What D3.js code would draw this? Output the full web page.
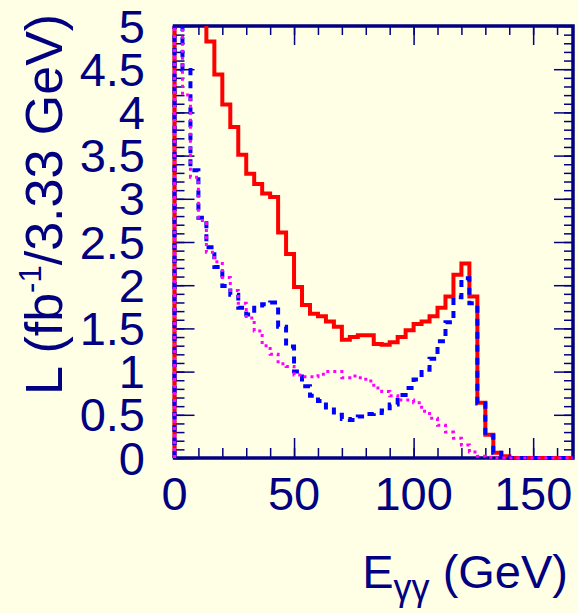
<html>
  <head>
    <meta charset="utf-8">
    <script src="https://d3js.org/d3.v7.min.js"></script>
    <style type="text/css">
      body {
        margin: 0;
        padding: 0;
        background: #ffffe6;
      }
      svg text {
        font-family: 'Liberation Sans', Arial, sans-serif;
        fill: #000080;
      }
    </style>
  </head>
  <body>
    <svg id="chart" width="578" height="613"></svg>
    <script>
      /* Data: 50 bins of 3.33 GeV */
      const binWidth = 10 / 3
      const nBins = 50

      // total (red solid)
      const totalValues = [9.5, 8.1, 6.7, 5.6, 4.82, 4.44, 4.09, 3.83, 3.51, 3.29,
        3.17, 3.06, 3.02, 2.61, 2.36, 1.98, 1.77, 1.67, 1.64, 1.58,
        1.52, 1.37, 1.40, 1.42, 1.42, 1.32, 1.31, 1.34, 1.40, 1.48,
        1.55, 1.58, 1.64, 1.74, 1.87, 2.12, 2.25, 1.87, 0.64, 0.27,
        0.06, 0.02, 0, 0, 0, 0, 0, 0, 0, 0]

      // blue dashed
      const blueValues = [6.0, 4.49, 3.33, 2.78, 2.44, 2.21, 1.99, 1.89, 1.74, 1.66,
        1.74, 1.78, 1.80, 1.52, 1.29, 1.00, 0.83, 0.72, 0.66, 0.56,
        0.50, 0.45, 0.44, 0.48, 0.51, 0.52, 0.55, 0.62, 0.73, 0.81,
        0.91, 1.02, 1.15, 1.35, 1.57, 1.86, 2.08, 1.79, 0.63, 0.26,
        0.06, 0.015, 0, 0, 0, 0, 0, 0, 0, 0]

      // magenta dotted
      const magentaValues = [5.8, 4.2, 3.25, 2.75, 2.38, 2.27, 2.09, 1.94, 1.79, 1.62,
        1.47, 1.30, 1.20, 1.09, 1.06, 0.96, 0.94, 0.94, 0.97, 1.00,
        1.00, 0.93, 0.95, 0.93, 0.89, 0.81, 0.77, 0.72, 0.67, 0.67,
        0.64, 0.54, 0.46, 0.38, 0.30, 0.23, 0.15, 0.07, 0.02, 0.01,
        0, 0, 0, 0, 0, 0, 0, 0, 0, 0]

      const xMajorTicks = [0, 50, 100, 150]
      const xTickLabels = ['0', '50', '100', '150']
      const yMajorTicks = [0, 0.5, 1, 1.5, 2, 2.5, 3, 3.5, 4, 4.5, 5]
      const yTickLabels = ['0', '0.5', '1', '1.5', '2', '2.5', '3', '3.5', '4', '4.5', '5']

      const navy = '#000080'

      /* Layout */
      const frame = { left: 174.5, right: 573, top: 26, bottom: 458 }

      const x = d3.scaleLinear()
        .domain([0, nBins * binWidth])
        .range([frame.left, frame.right])

      const y = d3.scaleLinear()
        .domain([0, 5])
        .range([frame.bottom, frame.top])

      const svg = d3.select('#chart')

      svg.append('rect')
        .attr('width', 578)
        .attr('height', 613)
        .attr('fill', '#ffffe6')

      svg.append('defs').append('clipPath')
        .attr('id', 'plotClip')
        .append('rect')
        .attr('x', frame.left - 3)
        .attr('y', frame.top)
        .attr('width', frame.right - frame.left + 3)
        .attr('height', frame.bottom - frame.top + 2)

      /* Ticks (inside the frame, on all four sides) */
      const xMinor = d3.range(0, 161, 10)
      const yMinor = d3.range(0, 51).map(d => d / 10)

      const tickLayer = svg.append('g')
        .attr('class', 'ticks')

      const addAxis = (axis, transform) => {
        const g = tickLayer.append('g')
          .attr('transform', transform)
          .call(axis)
        g.select('.domain').remove()
        g.selectAll('line')
          .attr('stroke', navy)
          .attr('stroke-width', 1.5)
        g.selectAll('text').remove()
      }

      addAxis(d3.axisBottom(x).tickValues(xMinor).tickSize(-10), `translate(0,${frame.bottom})`)
      addAxis(d3.axisBottom(x).tickValues(xMajorTicks).tickSize(-20), `translate(0,${frame.bottom})`)
      addAxis(d3.axisTop(x).tickValues(xMinor).tickSize(-9), `translate(0,${frame.top})`)
      addAxis(d3.axisTop(x).tickValues(xMajorTicks).tickSize(-19), `translate(0,${frame.top})`)
      addAxis(d3.axisLeft(y).tickValues(yMinor).tickSize(-10), `translate(${frame.left},0)`)
      addAxis(d3.axisLeft(y).tickValues(yMajorTicks).tickSize(-20), `translate(${frame.left},0)`)
      addAxis(d3.axisRight(y).tickValues(yMinor).tickSize(-9), `translate(${frame.right},0)`)
      addAxis(d3.axisRight(y).tickValues(yMajorTicks).tickSize(-19), `translate(${frame.right},0)`)

      /* Frame */
      svg.append('rect')
        .attr('x', frame.left)
        .attr('y', frame.top)
        .attr('width', frame.right - frame.left)
        .attr('height', frame.bottom - frame.top)
        .attr('fill', 'none')
        .attr('stroke', navy)
        .attr('stroke-width', 3.5)

      /* Histograms */
      const histPoints = (values) => {
        const pts = [[0, 0]]
        values.forEach((v, i) => {
          pts.push([i * binWidth, v])
          pts.push([(i + 1) * binWidth, v])
        })
        pts.push([nBins * binWidth, 0])
        return pts
      }

      const line = d3.line()
        .x(d => x(d[0]))
        .y(d => y(d[1]))

      const histLayer = svg.append('g')
        .attr('clip-path', 'url(#plotClip)')

      const series = [
        { values: totalValues, color: '#ff0000', width: 4, dash: null },
        { values: blueValues, color: '#0000ff', width: 4, dash: '7,6' },
        { values: magentaValues, color: '#ff00ff', width: 3, dash: '3,4' }
      ]

      histLayer.selectAll('path')
        .data(series)
        .join('path')
        .attr('d', d => line(histPoints(d.values)))
        .attr('fill', 'none')
        .attr('stroke', d => d.color)
        .attr('stroke-width', d => d.width)
        .attr('stroke-dasharray', d => d.dash)
        .attr('stroke-linejoin', 'miter')

      /* Tick labels */
      const labelSize = 47

      svg.append('g')
        .selectAll('text')
        .data(xMajorTicks)
        .join('text')
        .attr('x', d => x(d))
        .attr('y', 510)
        .attr('text-anchor', 'middle')
        .attr('font-size', labelSize)
        .text((d, i) => xTickLabels[i])

      svg.append('g')
        .selectAll('text')
        .data(yMajorTicks)
        .join('text')
        .attr('x', 145)
        .attr('y', d => y(d) + 16.5)
        .attr('text-anchor', 'end')
        .attr('font-size', labelSize)
        .text((d, i) => yTickLabels[i])

      /* Axis titles */
      const xTitle = svg.append('text')
        .attr('x', 568)
        .attr('y', 588)
        .attr('text-anchor', 'end')
        .attr('font-size', 47)
      xTitle.append('tspan').text('E')
      xTitle.append('tspan')
        .attr('font-size', 36)
        .attr('dy', 12)
        .text('γγ')
      xTitle.append('tspan')
        .attr('dy', -12)
        .text(' (GeV)')

      const yTitle = svg.append('text')
        .attr('transform', 'translate(62,395) rotate(-90)')
        .attr('text-anchor', 'start')
        .attr('font-size', 52)
      yTitle.append('tspan').text('L (fb')
      yTitle.append('tspan')
        .attr('font-size', 31)
        .attr('dy', -21)
        .text('-1')
      yTitle.append('tspan')
        .attr('dy', 21)
        .text('/3.33 GeV)')
    </script>
  </body>
</html>
